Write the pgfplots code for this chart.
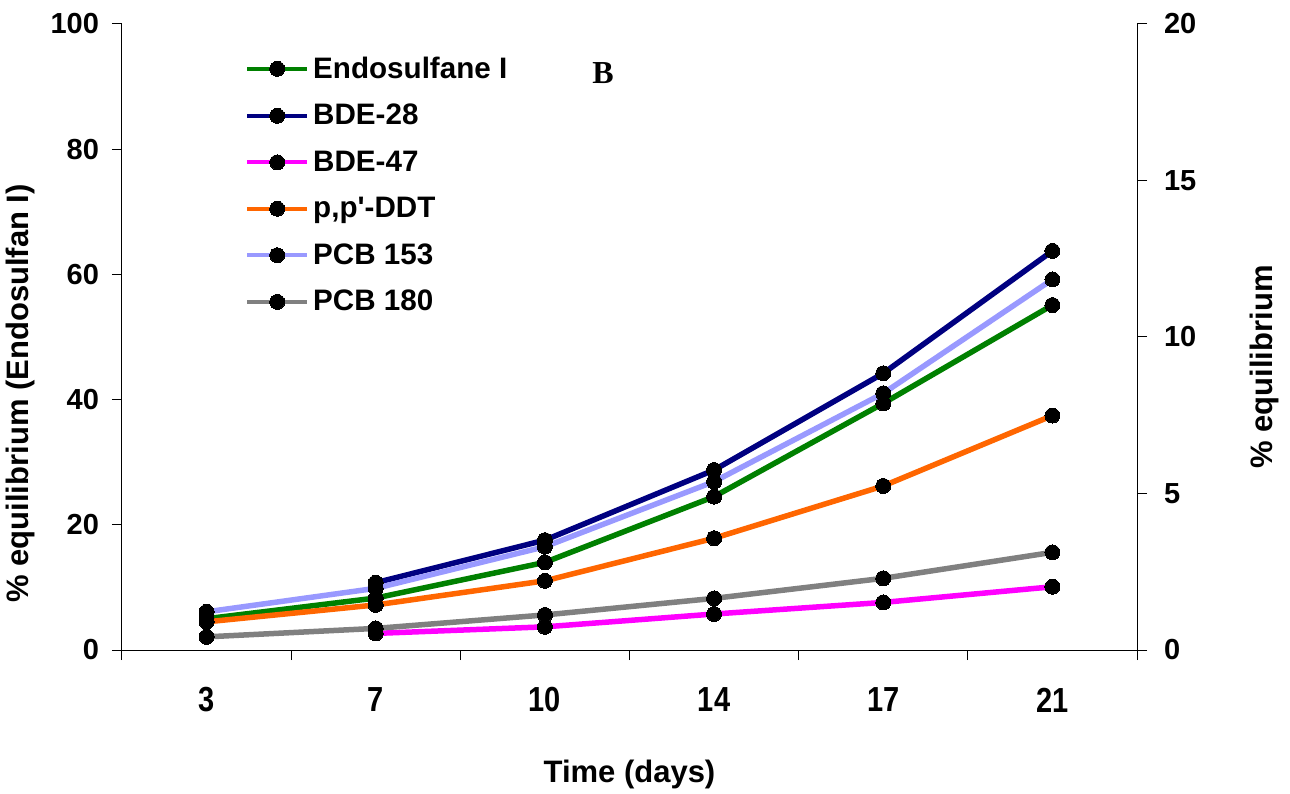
\documentclass[border=0pt]{standalone}
\usepackage{fontspec}
\setmainfont{Liberation Sans}
\newfontfamily\timesfont{Liberation Serif}
\usepackage{pgfplots}
\pgfplotsset{compat=1.18}
\definecolor{cendo}{HTML}{008000}
\definecolor{cbde28}{HTML}{000080}
\definecolor{cbde47}{HTML}{FF00FF}
\definecolor{cddt}{HTML}{FF6600}
\definecolor{cpcb153}{HTML}{9999FF}
\definecolor{cpcb180}{HTML}{808080}

\pgfplotsset{
  every axis/.append style={
    scale only axis, width=507.5pt, height=313pt,
    xmin=-0.5, xmax=5.5, ymin=0,
    font=\fontsize{14.5}{17}\selectfont\bfseries,
    /pgf/number format/assume math mode=true,
    tick align=outside, major tick length=5pt, minor tick length=5pt,
    tick style={black, line width=0.5pt},
    axis line style={black, line width=0.5pt},
    clip=false,
  },
  ser/.style={line width=2.75pt, mark=*, mark size=3.75pt,
    mark options={fill=black, draw=black, line width=0pt}},
}

\begin{document}
\begin{tikzpicture}
\path[use as bounding box] (-61pt,-71.5pt) rectangle (584pt,325pt);

% left axis: Endosulfane I
\begin{axis}[
  axis x line*=bottom, axis y line*=left,
  ymax=100, ytick={0,20,...,100},
  xtick={0,...,5}, xticklabels={3,7,10,14,17,21},
  major x tick style={draw=none},
  minor xtick={-0.5,0.5,...,5.5},
  xticklabel style={anchor=center, yshift=-20pt, yscale=1.2},
  yticklabel style={anchor=east, xshift=-3pt},
  xlabel={Time (days)},
  xlabel style={at={(axis description cs:0.5,0)}, anchor=center, yshift=-62pt, font=\fontsize{15.5}{18}\selectfont\bfseries},
  ylabel={\% equilibrium (Endosulfan I)},
  ylabel style={at={(axis description cs:-0.1005,0.41)}, anchor=center, font=\fontsize{15.5}{18}\selectfont\bfseries},
]
\addplot[ser, color=cendo] coordinates {(0,5.0) (1,8.3) (2,14.0) (3,24.5) (4,39.4) (5,55.1)};
\node[font=\timesfont\bfseries\fontsize{16}{18}\selectfont] at (rel axis cs:0.474,0.922) {B};
\end{axis}

% right axis: other compounds
\begin{axis}[
  axis y line*=right, axis x line=none,
  ymax=20, ytick={0,5,...,20},
  yticklabel style={anchor=west, xshift=5pt},
  ylabel={\% equilibrium},
  ylabel style={at={(axis description cs:1.126,0.452)}, anchor=center, font=\fontsize{15.5}{18}\selectfont\bfseries},
  legend style={draw=none, fill=none, at={(0.121,0.955)}, anchor=north west,
    inner sep=0pt, row sep=7.5pt, font=\fontsize{14.8}{17}\selectfont\bfseries,
    /tikz/every odd column/.append style={column sep=0pt}},
  legend cell align=left,
  legend image code/.code={\draw[mark repeat=2, mark phase=2, #1, line width=2pt]
    plot coordinates {(0pt,0pt) (15pt,0pt) (30pt,0pt)};},
]
\addlegendimage{ser, color=cendo}
\addlegendentry{Endosulfane I}
\addplot[ser, color=cbde28] coordinates {(1,2.15) (2,3.51) (3,5.75) (4,8.84) (5,12.75)};
\addlegendentry{BDE-28}
\addplot[ser, color=cbde47] coordinates {(1,0.53) (2,0.74) (3,1.15) (4,1.52) (5,2.02)};
\addlegendentry{BDE-47}
\addplot[ser, color=cddt] coordinates {(0,0.90) (1,1.44) (2,2.21) (3,3.57) (4,5.24) (5,7.49)};
\addlegendentry{p,p\textquotesingle-DDT}
\addplot[ser, color=cpcb153] coordinates {(0,1.22) (1,1.97) (2,3.30) (3,5.38) (4,8.20) (5,11.84)};
\addlegendentry{PCB 153}
\addplot[ser, color=cpcb180] coordinates {(0,0.42) (1,0.69) (2,1.12) (3,1.65) (4,2.29) (5,3.12)};
\addlegendentry{PCB 180}
\end{axis}
\end{tikzpicture}
\end{document}
